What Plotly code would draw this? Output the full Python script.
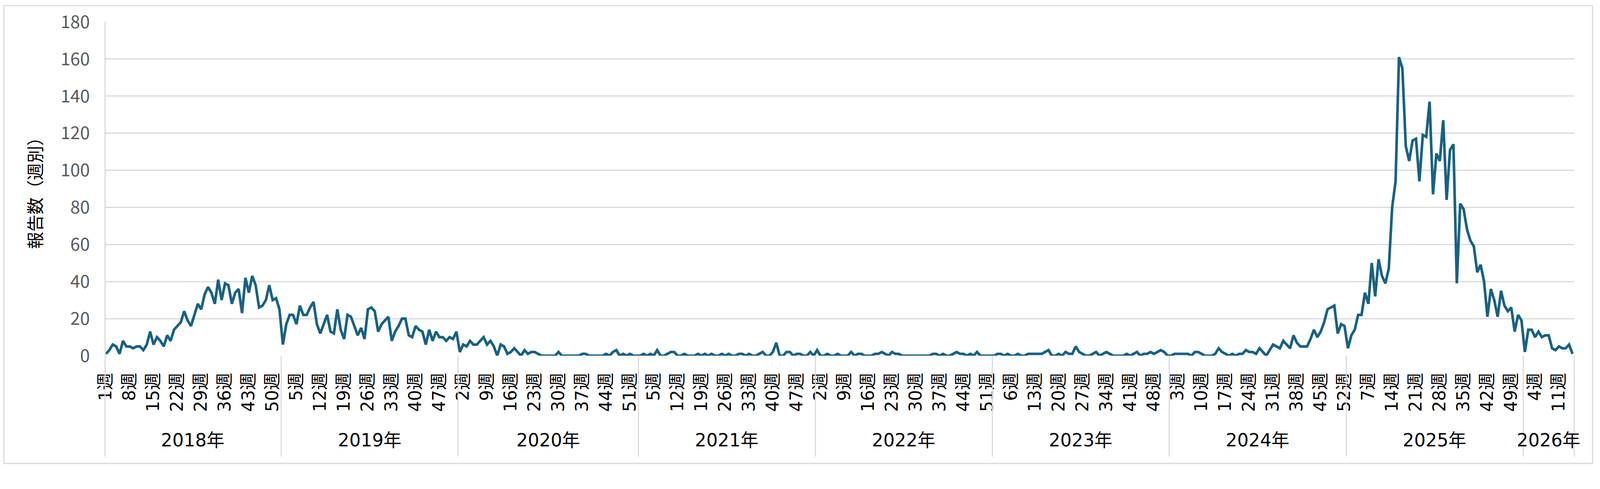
import plotly.graph_objects as go

# 週別報告数 (年ごと)
years = [2018, 2019, 2020, 2021, 2022, 2023, 2024, 2025, 2026]

counts_2018 = [1, 3, 6, 5, 1, 8, 5, 5, 4, 5, 5, 3, 6, 13, 6, 10, 8, 5, 11, 8,
               14, 16, 18, 24, 19, 16, 22, 28, 25, 33, 37, 34, 28, 41, 30, 39, 38, 28, 34, 36,
               23, 42, 34, 43, 38, 26, 27, 30, 38, 30, 31, 25]
counts_2019 = [6, 17, 22, 22, 17, 27, 22, 22, 26, 29, 17, 12, 17, 22, 13, 12, 25, 14, 9, 22,
               21, 16, 11, 15, 9, 25, 26, 24, 13, 17, 19, 21, 8, 13, 16, 20, 20, 11, 10, 16,
               14, 13, 6, 14, 8, 13, 10, 10, 8, 10, 9, 13]
counts_2020 = [2, 6, 5, 8, 6, 6, 8, 10, 6, 8, 5, 0, 6, 5, 1, 2, 4, 2, 0, 3,
               1, 2, 2, 1, 0, 0, 0, 0, 0, 2, 0, 0, 0, 0, 0, 0, 1, 1, 0, 0,
               0, 0, 0, 1, 0, 2, 3, 0, 1, 0, 1, 0, 0]
counts_2021 = [0, 1, 0, 1, 0, 3, 0, 0, 1, 2, 2, 0, 0, 1, 0, 0, 0, 1, 0, 1,
               0, 1, 0, 0, 1, 0, 1, 0, 0, 1, 1, 0, 1, 0, 0, 1, 2, 0, 0, 2,
               7, 0, 0, 2, 2, 0, 1, 1, 0, 0, 2, 0]
counts_2022 = [3, 0, 0, 1, 0, 0, 1, 0, 0, 0, 2, 0, 1, 1, 0, 0, 0, 1, 1, 2,
               1, 0, 2, 1, 1, 0, 0, 0, 0, 0, 0, 0, 0, 0, 1, 1, 0, 1, 0, 0,
               1, 2, 1, 1, 0, 1, 0, 2, 0, 0, 0, 0]
counts_2023 = [0, 1, 1, 0, 1, 0, 0, 1, 0, 0, 1, 1, 1, 1, 1, 2, 3, 0, 0, 1,
               0, 2, 1, 1, 5, 2, 1, 0, 0, 1, 2, 0, 1, 2, 1, 0, 0, 0, 0, 1,
               0, 1, 2, 0, 1, 1, 2, 1, 2, 3, 2, 0]
counts_2024 = [0, 1, 1, 1, 1, 1, 0, 2, 2, 1, 0, 0, 0, 1, 4, 2, 1, 0, 1, 0,
               1, 1, 3, 2, 2, 1, 4, 2, 0, 3, 6, 5, 4, 8, 6, 4, 11, 7, 5, 5,
               5, 9, 14, 10, 13, 18, 25, 26, 27, 12, 17, 16]
counts_2025 = [4, 11, 14, 22, 22, 34, 28, 50, 32, 52, 43, 39, 47, 80, 94, 161, 155, 113, 105, 116,
               117, 94, 119, 118, 137, 87, 109, 105, 127, 84, 111, 114, 39, 82, 79, 68, 62, 59, 45, 49,
               40, 21, 36, 30, 21, 35, 27, 24, 26, 13, 22, 19]
counts_2026 = [2, 14, 14, 10, 13, 10, 11, 11, 4, 3, 5, 4, 4, 6, 1]

series = [counts_2018, counts_2019, counts_2020, counts_2021, counts_2022,
          counts_2023, counts_2024, counts_2025, counts_2026]

x_idx, values, week_no = [], [], []
year_spans = []
for yr, vals in zip(years, series):
    start = len(x_idx)
    for w, v in enumerate(vals, 1):
        x_idx.append(len(x_idx))
        values.append(v)
        week_no.append(w)
    year_spans.append((yr, start, len(x_idx) - 1))

tickvals = [i for i in x_idx if i % 7 == 0]
ticktext = [f"{week_no[i]}週" for i in tickvals]

x0, x1 = -0.25, len(x_idx) - 0.5
grid = "#d9d9d9"
font_jp = "Noto Sans CJK JP"
font_wide = "DejaVu Sans, Noto Sans CJK JP"

# the page comes out ~4.5% larger than css px, so size everything down
S = 1 / 1.045
def px(v):
    return v * S

W, H = 4071, 1181
ml, mr, mt, mb = 261, 49, 44, 279
plot_w, plot_h = W - ml - mr, H - mt - mb

fig = go.Figure(go.Scatter(
    x=x_idx, y=values, mode="lines",
    line=dict(color="#186182", width=px(7)),
    hoverinfo="skip",
))

def to_paper(v):
    return (v - x0) / (x1 - x0)

shapes = []
# y軸線 + 年の区切り線
shapes.append(dict(type="line", xref="paper", yref="paper", x0=0, x1=0, y0=1, y1=-0.302,
                   line=dict(color=grid, width=px(3))))
for yr, s, e in year_spans[:-1]:
    xp = to_paper(e + 0.5)
    shapes.append(dict(type="line", xref="paper", yref="paper", x0=xp, x1=xp, y0=0, y1=-0.302,
                       line=dict(color=grid, width=px(3))))
shapes.append(dict(type="line", xref="paper", yref="paper", x0=1, x1=1, y0=0, y1=-0.302,
                   line=dict(color=grid, width=px(3))))
# 外枠 (figure の内側に)
shapes.append(dict(type="rect", xref="paper", yref="paper",
                   x0=(2 - ml) / plot_w, x1=(W - 2 - ml) / plot_w,
                   y0=-(mb - 2) / plot_h, y1=1 + (mt - 2) / plot_h,
                   line=dict(color=grid, width=px(3))))

annotations = []
for yr, s, e in year_spans:
    annotations.append(dict(x=(s + e) / 2, y=-0.253, xref="x", yref="paper", text=f"{yr}年",
                            showarrow=False, xanchor="center", yanchor="middle",
                            font=dict(family=font_wide, size=px(48), color="#000000")))

fig.update_layout(
    width=W, height=H,
    margin=dict(l=ml, r=mr, t=mt, b=mb),
    paper_bgcolor="white", plot_bgcolor="white",
    showlegend=False,
    shapes=shapes,
    annotations=annotations,
    xaxis=dict(
        range=[x0, x1], tickmode="array", tickvals=tickvals, ticktext=ticktext,
        tickangle=-90, showgrid=False, zeroline=False, showline=False, ticks="",
        ticklabelstandoff=round(px(36)),
        tickfont=dict(family=font_wide, size=px(46), color="#000000"),
    ),
    yaxis=dict(
        range=[0, 180], dtick=20, showgrid=True, gridcolor=grid, gridwidth=px(3),
        zeroline=False, showline=False, ticks="", ticklabelstandoff=round(px(40)),
        tickfont=dict(family=font_jp, size=px(47), color="#595959"),
        title=dict(text="報告数（週別）", standoff=round(px(34)),
                   font=dict(family=font_jp, size=px(46), color="#000000")),
    ),
)

fig.write_html("out.html")
